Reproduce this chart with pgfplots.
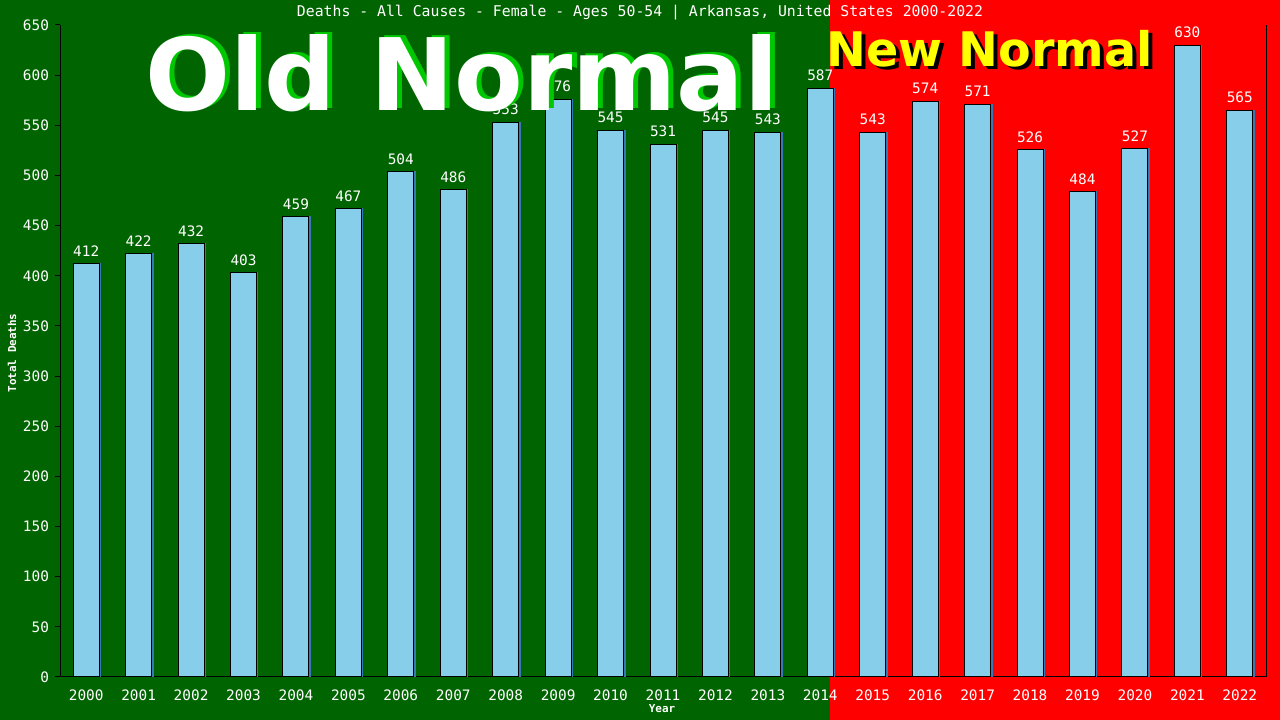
\documentclass[border=0pt]{standalone}
\usepackage{pgfplots}
\pgfplotsset{compat=1.18}
\usepackage{fontspec}
\setmainfont{DejaVu Sans}
\newfontfamily\monofont{DejaVu Sans Mono}

\definecolor{bgGreen}{HTML}{006400}
\definecolor{bgRed}{HTML}{FF0000}
\definecolor{barBlue}{HTML}{87CEEB}
\definecolor{barShade}{HTML}{3A78B4}
\definecolor{shadowGreen}{HTML}{00C800}
\definecolor{newYellow}{HTML}{FFFF00}

\pgfplotstableread{
x  deaths
0  412
1  422
2  432
3  403
4  459
5  467
6  504
7  486
8  553
9  576
10 545
11 531
12 545
13 543
14 587
15 543
16 574
17 571
18 526
19 484
20 527
21 630
22 565
}\deathtable

\begin{document}
\begin{tikzpicture}[x=0.75pt,y=0.75pt]
  % background halves
  \fill[bgGreen] (0,0) rectangle (830,720);
  \fill[bgRed] (830,0) rectangle (1280,720);

  \begin{axis}[
    at={(45pt,32.25pt)}, anchor=south west,
    scale only axis,
    width=904.5pt, height=489pt,
    xmin=-0.5, xmax=22.5,
    ymin=0, ymax=650,
    ybar, bar width=19.5pt,
    axis lines*=left,
    axis line style={black, line width=0.75pt},
    tick align=outside,
    major tick length=3.75pt,
    xtick={0,...,22},
    xticklabels={2000,2001,2002,2003,2004,2005,2006,2007,2008,2009,2010,2011,
      2012,2013,2014,2015,2016,2017,2018,2019,2020,2021,2022},
    xtick style={draw=none},
    ytick={0,50,...,650},
    ytick style={black, line width=0.75pt},
    /pgf/number format/assume math mode=true,
    tick label style={font=\monofont\fontsize{10.8}{12}\selectfont, text=white},
    yticklabel style={xshift=-1pt},
    xticklabel style={yshift=-2pt},
    clip=false,
  ]
    % thin shaded edge behind each bar
    \addplot[fill=barShade, draw=barShade, line width=0.75pt, bar shift=1.1pt]
      table[x=x, y=deaths] {\deathtable};
    \addplot[fill=barBlue, draw=black, line width=0.75pt, bar shift=0pt,
      nodes near coords,
      every node near coord/.append style={font=\monofont\fontsize{10.8}{12}\selectfont,
        text=white, inner sep=0pt, anchor=south, yshift=5pt}]
      table[x=x, y=deaths] {\deathtable};
    \draw[black, line width=0.75pt] (rel axis cs:1,0) -- (rel axis cs:1,1);
  \end{axis}

  % titles and labels
  \node[text=white, font=\monofont\fontsize{11.1}{13}\selectfont] at (640,707) {Deaths - All Causes - Female - Ages 50-54 | Arkansas, United States 2000-2022};
  \node[text=white, font=\monofont\bfseries\fontsize{8.2}{10}\selectfont] at (662,11) {Year};
  \node[text=white, rotate=90, font=\monofont\bfseries\fontsize{8.2}{10}\selectfont] at (12,367) {Total Deaths};

  % Old Normal / New Normal banners
  \node[anchor=base west, inner sep=0pt, text=shadowGreen, font=\bfseries\fontsize{75}{80}\selectfont] at (150,611) {Old Normal};
  \node[anchor=base west, inner sep=0pt, text=white, font=\bfseries\fontsize{75}{80}\selectfont] at (145,609) {Old Normal};
  \node[anchor=base west, inner sep=0pt, text=black, font=\bfseries\fontsize{35.7}{40}\selectfont] at (830,650) {New Normal};
  \node[anchor=base west, inner sep=0pt, text=newYellow, font=\bfseries\fontsize{35.7}{40}\selectfont] at (826,653) {New Normal};

  \pgfresetboundingbox
  \useasboundingbox (0,0) rectangle (1280,720);
\end{tikzpicture}
\end{document}
